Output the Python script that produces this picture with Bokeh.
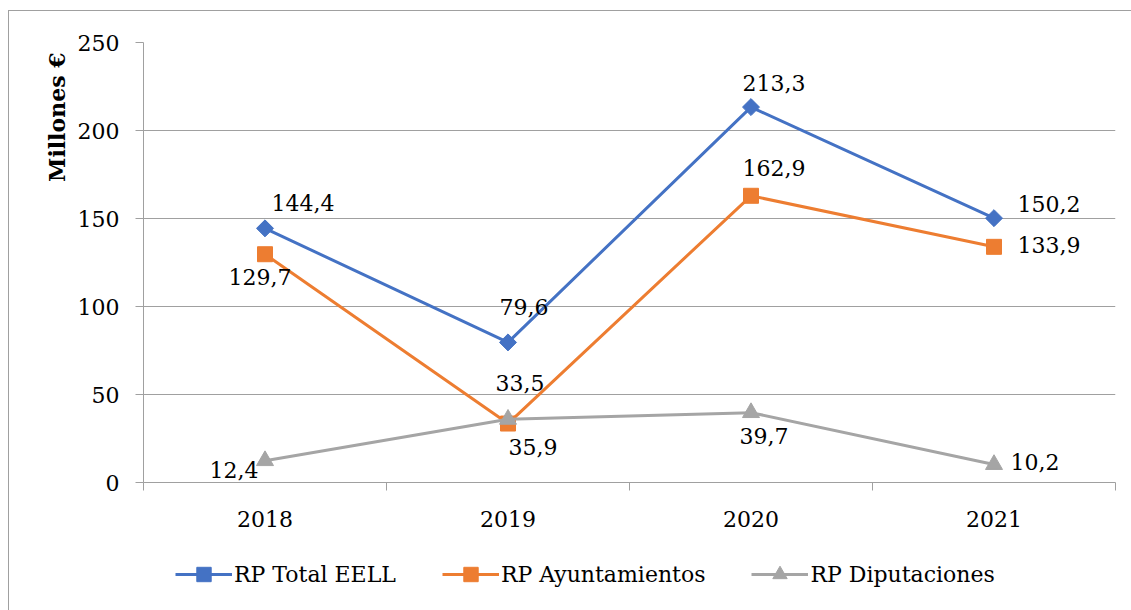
import math
from bokeh.plotting import figure
from bokeh.layouts import column
from bokeh.models import ColumnDataSource, FixedTicker, Legend, LegendItem, Title, Range1d
from bokeh.core.properties import value
from bokeh.embed import file_html
from bokeh.resources import INLINE

# ---- data ----
years = ["2018", "2019", "2020", "2021"]
total = [144.4, 79.6, 213.3, 150.2]
ayuntamientos = [129.7, 33.5, 162.9, 133.9]
diputaciones = [12.4, 35.9, 39.7, 10.2]
series_names = ["RP Total EELL", "RP Ayuntamientos", "RP Diputaciones"]
y_ticks = [0, 50, 100, 150, 200, 250]
y_label = "Millones €"

# ---- label offsets (px, style only) ----
total_dx = [38, 16, 23, 55]
total_dy = [-25, -35, -24, -14]
ayunt_dx = [-5, 12, 23, 55]
ayunt_dy = [23, -41, -28, -2]
dip_dx = [-31, 25, 13, 41]
dip_dy = [9, 28, 23, -3]

FONT = "DejaVu Serif"
FS = "22px"
GRAY = "#A0A0A0"
colors = ["#4472C4", "#ED7D31", "#A5A5A5"]
W = 1131
NAN = float("nan")

def fmt(v):
    return f"{v:.1f}".replace(".", ",")

xs = [i + 0.5 for i in range(len(years))]

line_top = f"linear-gradient({GRAY},{GRAY}) 8px 10px / 100% 1px no-repeat"
line_left = f"linear-gradient({GRAY},{GRAY}) 8px 10px / 1px 100% no-repeat"
line_left2 = f"linear-gradient({GRAY},{GRAY}) 8px 0px / 1px 100% no-repeat"

p = figure(width=W, height=540, output_backend="svg", toolbar_location=None,
           x_range=(0, len(years)), y_range=(0, 250),
           min_border_left=143, min_border_right=16, min_border_top=42,
           min_border_bottom=58)
p.outline_line_color = None
p.border_fill_color = None
p.styles = {"background": f"{line_top}, {line_left}, white"}

# axes
p.xaxis.ticker = FixedTicker(ticks=xs, minor_ticks=list(range(len(years) + 1)))
p.xaxis.major_label_overrides = {x: y for x, y in zip(xs, years)}
p.xaxis.major_tick_line_color = None
p.xaxis.major_tick_out = 8
p.xaxis.major_tick_in = 0
p.xaxis.minor_tick_out = 8
p.xaxis.minor_tick_in = 0
p.xaxis.minor_tick_line_color = GRAY
p.xaxis.axis_line_color = GRAY
p.xaxis.major_label_standoff = 20
p.xgrid.visible = False

p.yaxis.ticker = FixedTicker(ticks=y_ticks)
p.yaxis.major_tick_out = 8
p.yaxis.major_tick_in = 0
p.yaxis.minor_tick_line_color = None
p.yaxis.major_tick_line_color = GRAY
p.yaxis.axis_line_color = GRAY
p.yaxis.major_label_standoff = 16
p.ygrid.grid_line_color = GRAY

for ax in (p.xaxis, p.yaxis):
    ax.major_label_text_font = FONT
    ax.major_label_text_font_size = FS
    ax.major_label_text_color = "black"

# series
series = [total, ayuntamientos, diputaciones]
markers = [("square", 12, math.pi / 4), ("square", 15, 0), ("triangle", 17, 0)]
dxs = [total_dx, ayunt_dx, dip_dx]
dys = [total_dy, ayunt_dy, dip_dy]
for vals, col, (mk, sz, ang) in zip(series, colors, markers):
    p.line(xs, vals, line_color=col, line_width=3)
    p.scatter(xs, vals, marker=mk, size=sz, angle=ang, fill_color=col, line_color=col)

for vals, dx, dy in zip(series, dxs, dys):
    src = ColumnDataSource(dict(x=xs, y=vals, t=[fmt(v) for v in vals], dx=dx, dy=dy))
    p.text(x="x", y="y", text="t", x_offset="dx", y_offset="dy", source=src,
           text_font=value(FONT), text_font_size=FS, text_color="black",
           text_align="center", text_baseline="alphabetic")

p.add_layout(Title(text=y_label, align="right", offset=10, standoff=10,
                   text_font=FONT, text_font_style="bold", text_font_size=FS,
                   text_color="black"), "left")

# ---- legend strip (frame aligned with the chart above) ----
lg = figure(width=W, height=70, output_backend="svg", toolbar_location=None,
            x_axis_type=None, y_axis_type=None,
            x_range=Range1d(0, 1), y_range=Range1d(0, 1),
            min_border=0)
lg.outline_line_color = None
lg.border_fill_color = None
lg.background_fill_color = None
lg.styles = {"background": f"{line_left2}, white"}
items = []
for name, col, (mk, sz, ang) in zip(series_names, colors, markers):
    ln = lg.line([NAN], [NAN], line_color=col, line_width=3)
    sc = lg.scatter([NAN], [NAN], marker=mk, size=sz, angle=ang, fill_color=col, line_color=col)
    items.append(LegendItem(label=name, renderers=[ln, sc]))
legend = Legend(items=items, orientation="horizontal", location=(32, 18),
                glyph_width=57, glyph_height=36, label_height=26, label_standoff=2,
                spacing=46, padding=0, margin=0, border_line_color=None,
                background_fill_alpha=0, label_text_font=FONT,
                label_text_font_size=FS, label_text_color="black")
lg.add_layout(legend)

layout = column(p, lg, spacing=0)
open("out.html", "w").write(file_html(layout, INLINE))
